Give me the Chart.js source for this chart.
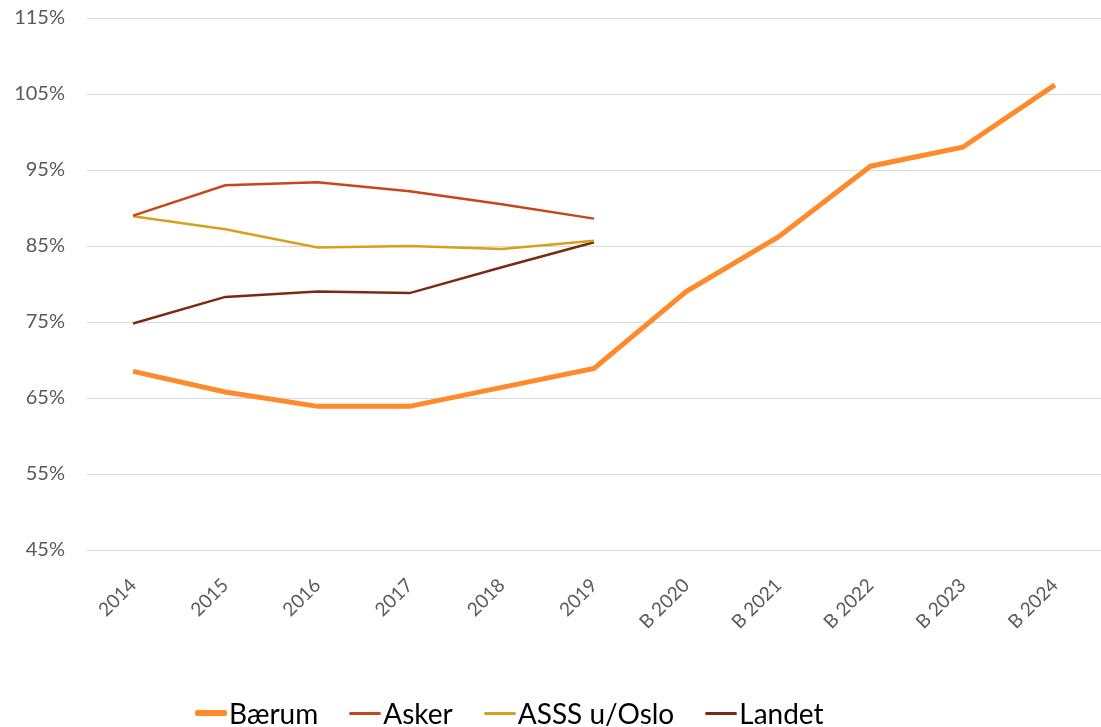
<!DOCTYPE html>
<html>
<head>
<meta charset="utf-8">
<script src="https://cdn.jsdelivr.net/npm/chart.js@4"></script>
<style>
  html, body { margin: 0; padding: 0; background: #fff; }
  #wrap { position: relative; width: 1101px; height: 727px; }
  #legend {
    position: absolute; left: 195px; top: 696px;
    display: flex; align-items: center; gap: 31px;
    font-family: Lato, "Open Sans", sans-serif; font-size: 28px; color: #000;
    line-height: 34px;
  }
  #legend .item { display: flex; align-items: center; }
  #legend .mark { display: inline-block; width: 32px; margin-right: 2px; border-radius: 2px; }
</style>
</head>
<body>
<div id="wrap">
  <canvas id="chart" width="1101" height="727"></canvas>
  <div id="legend"></div>
</div>
<script>
// Data
const years = ["2014", "2015", "2016", "2017", "2018", "2019", "B 2020", "B 2021", "B 2022", "B 2023", "B 2024"];
const baerum = [68.5, 65.8, 63.9, 63.9, 66.4, 68.9, 79.0, 86.2, 95.5, 98.0, 106.2];
const asker = [89.0, 93.0, 93.4, 92.2, 90.5, 88.6, null, null, null, null, null];
const asssUtenOslo = [88.9, 87.2, 84.8, 85.0, 84.6, 85.7, null, null, null, null, null];
const landet = [74.8, 78.3, 79.0, 78.8, 82.2, 85.5, null, null, null, null, null];

const FONT = "Lato, 'Open Sans', sans-serif";

function line(label, data, color, width) {
  return {
    label: label,
    data: data,
    borderColor: color,
    backgroundColor: color,
    borderWidth: width,
    pointRadius: 0,
    pointHoverRadius: 0,
    tension: 0,
    spanGaps: false,
  };
}

const ctx = document.getElementById("chart").getContext("2d");

const chart = new Chart(ctx, {
  type: "line",
  data: {
    labels: years,
    datasets: [
      line("Bærum", baerum, "#FF8A2B", 5),
      line("Asker", asker, "#C8461C", 2.5),
      line("ASSS u/Oslo", asssUtenOslo, "#D4A21A", 2.5),
      line("Landet", landet, "#7A2A14", 2.5),
    ],
  },
  options: {
    responsive: false,
    animation: false,
    layout: {
      padding: { top: 18, right: 0, bottom: 0, left: 0 },
    },
    plugins: {
      legend: { display: false },
      tooltip: { enabled: false },
    },
    scales: {
      y: {
        min: 45,
        max: 115,
        ticks: {
          stepSize: 10,
          padding: 22,
          color: "#595959",
          font: { family: FONT, size: 20 },
          callback: function (v) {
            return v + "%";
          },
        },
        grid: {
          color: "#d9d9d9",
          lineWidth: 1,
          drawTicks: false,
        },
        border: { display: false },
        afterFit: function (scale) {
          scale.width = 87;
          // tick padding would otherwise push the plot top down
          scale.paddingTop = 0;
          scale.paddingBottom = 0;
        },
      },
      x: {
        offset: true,
        ticks: {
          minRotation: 45,
          maxRotation: 45,
          padding: 16,
          color: "#595959",
          font: { family: FONT, size: 19 },
        },
        grid: { display: false },
        border: { display: false },
        afterFit: function (scale) {
          scale.height = 177;
        },
      },
    },
  },
});

// HTML legend built from the datasets
const legendEl = document.getElementById("legend");
chart.data.datasets.forEach(function (ds) {
  const item = document.createElement("span");
  item.className = "item";
  const mark = document.createElement("span");
  mark.className = "mark";
  mark.style.background = ds.borderColor;
  mark.style.height = (ds.borderWidth >= 4 ? 6 : 3) + "px";
  const txt = document.createElement("span");
  txt.textContent = ds.label;
  item.appendChild(mark);
  item.appendChild(txt);
  legendEl.appendChild(item);
});
</script>
</body>
</html>
